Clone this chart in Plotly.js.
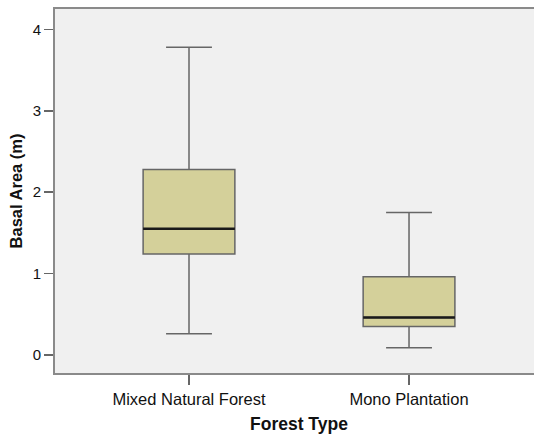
<!DOCTYPE html>
<html>
<head>
<meta charset="utf-8">
<script src="https://cdn.plot.ly/plotly-3.0.1.min.js"></script>
<style>
html, body { margin: 0; padding: 0; overflow: hidden; background: #fff; }
#chart { width: 534px; height: 434px; }
</style>
</head>
<body>
<div id="chart"></div>
<script>
// Data
const categories = ["Mixed Natural Forest", "Mono Plantation"];
const lowerWhisker = [0.26, 0.09];
const q1Values = [1.24, 0.35];
const medianValues = [1.55, 0.46];
const q3Values = [2.28, 0.96];
const upperWhisker = [3.78, 1.75];
const yTickValues = [0, 1, 2, 3, 4];
const yTickLabels = ["0", "1", "2", "3", "4"];

const boxWidth = 0.417;
const fontFamily = "Liberation Sans, Arial, sans-serif";

const boxTrace = {
  type: "box",
  x: categories,
  q1: q1Values,
  median: medianValues,
  q3: q3Values,
  lowerfence: lowerWhisker,
  upperfence: upperWhisker,
  width: boxWidth,
  whiskerwidth: 0.5,
  fillcolor: "#d4d09a",
  line: { color: "#666666", width: 1.5 },
  boxpoints: false,
  hoverinfo: "skip",
  showlegend: false
};

const medianShapes = categories.map((c, i) => ({
  type: "line",
  xref: "x", yref: "y",
  x0: i - boxWidth / 2, x1: i + boxWidth / 2,
  y0: medianValues[i], y1: medianValues[i],
  line: { color: "#1a1a1a", width: 2.5 }
}));

const layout = {
  width: 534,
  height: 434,
  margin: { l: 55, r: 0, t: 9, b: 61 },
  paper_bgcolor: "#ffffff",
  plot_bgcolor: "#f0f0f0",
  showlegend: false,
  shapes: medianShapes,
  annotations: [{
    text: "<b>Forest Type</b>",
    xref: "x", yref: "paper",
    x: (categories.length - 1) / 2, y: 0,
    yshift: -51,
    xanchor: "center", yanchor: "middle",
    showarrow: false,
    font: { family: fontFamily, size: 17.5, color: "#111" }
  }],
  xaxis: {
    type: "category",
    range: [-0.609, 1.568],
    showgrid: false,
    zeroline: false,
    showline: true,
    mirror: true,
    linecolor: "#8a8a8a",
    linewidth: 2,
    ticks: "outside",
    ticklen: 10,
    tickwidth: 1.5,
    tickcolor: "#666666",
    tickfont: { family: fontFamily, size: 16.5, color: "#111" }
  },
  yaxis: {
    range: [-0.221, 4.25],
    tickvals: yTickValues,
    ticktext: yTickLabels,
    showgrid: false,
    zeroline: false,
    showline: true,
    mirror: false,
    linecolor: "#8a8a8a",
    linewidth: 2,
    ticks: "outside",
    ticklen: 9,
    tickwidth: 1.5,
    tickcolor: "#666666",
    tickfont: { family: fontFamily, size: 15, color: "#111" },
    title: { text: "<b>Basal Area (m)</b>", font: { family: fontFamily, size: 16.5, color: "#111" }, standoff: 6 }
  }
};

Plotly.newPlot("chart", [boxTrace], layout, { displayModeBar: false, staticPlot: true });
</script>
</body>
</html>
